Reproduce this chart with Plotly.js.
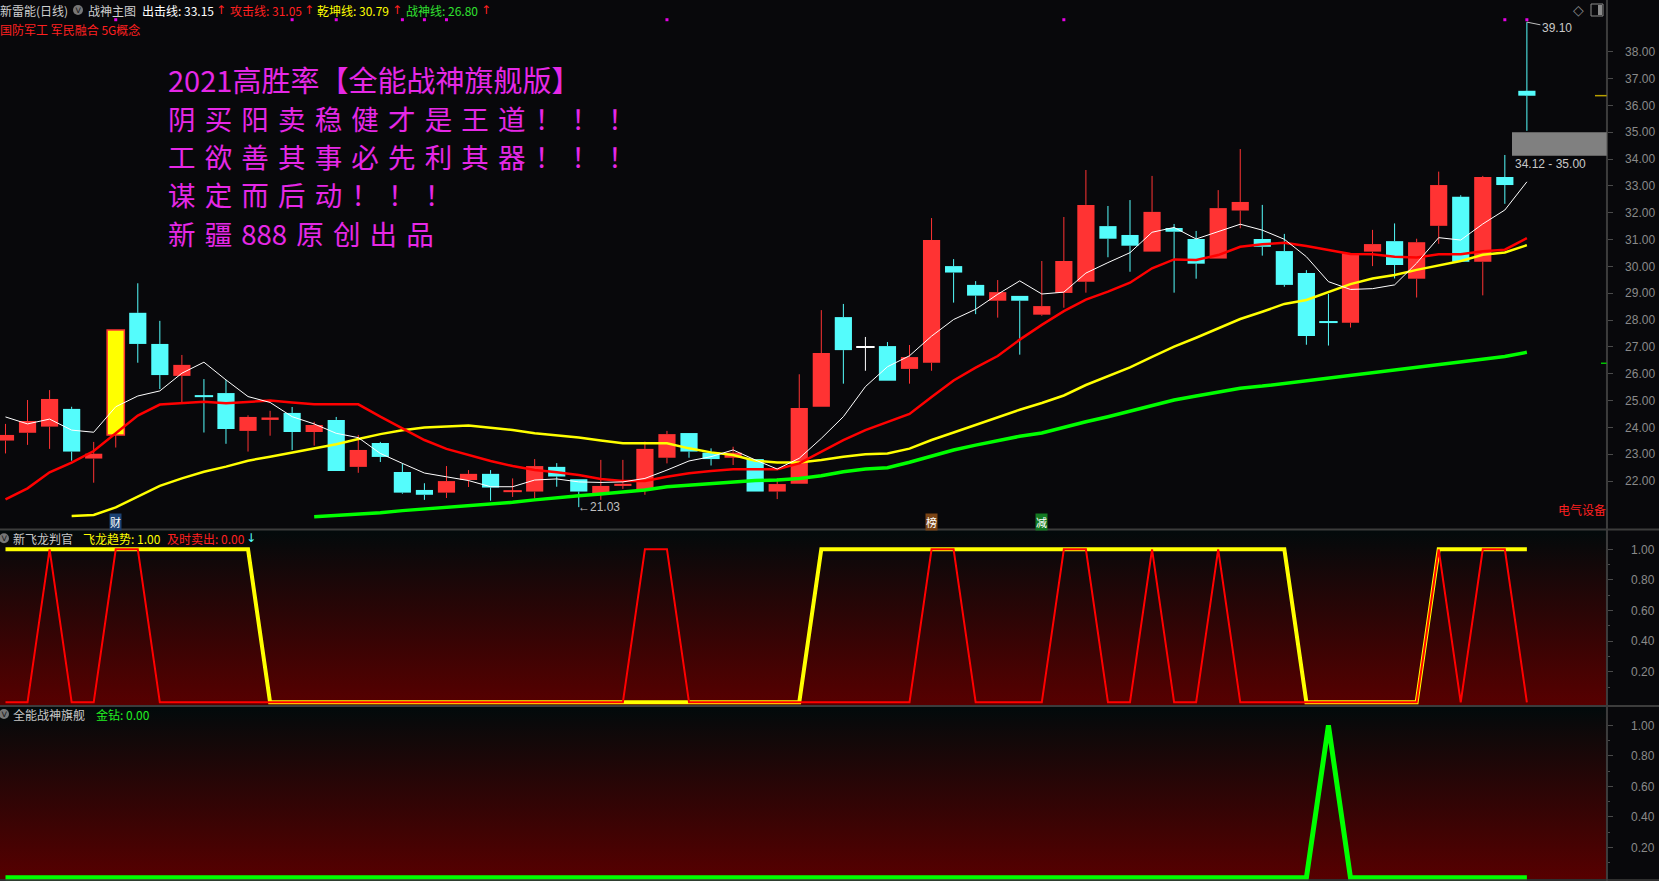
<!DOCTYPE html>
<html><head><meta charset="utf-8">
<script src="https://cdn.plot.ly/plotly-3.0.1.min.js"></script>
<style>
html,body{margin:0;padding:0;background:#08080b;overflow:hidden;}
#wrap{position:relative;width:1659px;height:881px;}
.grad{position:absolute;left:0;width:1607px;background:linear-gradient(to bottom,#020a0b 0%,#570000 100%);}
#chart{position:absolute;left:0;top:0;width:1659px;height:881px;}
</style></head><body>
<div id="wrap">
<div class="grad" style="top:530px;height:175px"></div>
<div class="grad" style="top:707px;height:172px"></div>
<div id="chart"></div>
</div>
<script>
// ---------- DATA ----------
const openP  = [23.51,23.80,24.03,24.69,22.84,23.72,28.27,27.11,25.92,25.15,25.28,23.87,24.28,24.54,23.83,24.28,22.53,23.42,22.34,21.67,21.57,22.04,22.27,21.61,21.61,22.53,22.07,21.53,21.82,21.67,22.87,23.79,23.06,22.87,22.82,21.61,21.90,24.77,28.11,26.98,27.03,26.18,26.41,30.01,29.31,28.72,28.90,28.20,29.01,29.43,31.50,31.17,30.55,31.43,31.02,30.29,32.08,31.02,30.57,29.75,27.91,27.90,30.55,30.94,29.54,31.51,32.59,30.17,33.33,36.54];
const highP  = [24.13,25.02,25.39,24.77,23.46,27.63,29.37,27.97,26.70,25.80,25.77,24.45,24.62,24.76,24.21,24.39,23.72,23.46,22.66,21.92,22.56,22.41,22.41,22.10,22.82,22.67,22.07,22.79,22.79,23.47,23.87,23.79,23.22,23.28,22.82,22.10,25.98,28.37,28.60,27.37,27.18,27.07,31.80,30.27,29.45,29.49,28.90,30.20,31.84,33.59,32.25,32.47,33.37,31.58,31.32,32.84,34.37,32.29,31.21,29.86,28.97,30.48,31.36,31.60,31.03,33.53,32.65,33.37,34.15,39.10];
const lowP   = [23.03,23.35,23.20,22.76,21.94,23.25,26.41,25.43,24.92,23.81,23.39,23.10,23.69,23.16,23.32,22.38,22.31,22.71,21.53,21.30,21.37,21.78,21.27,21.41,21.35,21.79,21.03,21.30,21.71,21.49,22.66,22.87,22.58,22.60,21.61,21.33,21.90,24.77,25.63,26.11,25.74,25.63,26.11,28.65,28.22,28.09,26.71,28.16,28.46,29.02,30.34,29.80,30.55,29.02,29.54,30.29,31.42,30.40,29.24,27.08,27.05,27.72,30.01,29.55,28.84,30.84,30.17,28.92,32.33,35.05];
const closeP = [23.72,24.24,25.06,23.10,23.02,27.63,27.11,25.95,26.33,25.15,23.94,24.39,24.37,23.83,24.09,22.38,23.16,22.90,21.57,21.49,22.00,22.27,21.76,21.61,22.56,22.17,21.61,21.82,21.90,23.20,23.75,23.10,22.82,23.06,21.61,21.89,24.72,26.77,26.88,26.98,25.74,26.62,30.98,29.77,28.91,29.04,28.72,28.52,30.20,32.29,31.03,30.77,32.03,31.29,30.10,32.17,32.40,30.73,29.31,27.41,27.91,30.48,30.83,30.05,30.90,33.03,30.17,33.33,33.03,36.36];
const limitUpDays = [5];
const dojiKind = {9:'down', 23:'up', 39:'flat', 60:'down'};

const chujiLine = [24.39,24.13,24.31,23.90,23.82,24.77,25.17,25.36,26.02,26.43,25.77,25.15,24.93,24.40,24.13,23.78,23.62,23.03,22.66,22.30,22.16,22.02,21.79,21.79,22.04,22.08,21.97,21.95,21.97,22.10,22.41,22.75,22.91,23.16,22.79,22.45,22.85,23.59,24.40,25.52,26.26,26.67,27.40,28.02,28.40,28.96,29.46,28.97,29.04,29.75,30.14,30.51,31.27,31.45,31.02,31.29,31.57,31.35,31.01,30.36,29.43,29.14,29.17,29.31,30.12,31.07,30.98,31.58,32.10,33.15];
const gongjiLine = [21.32,21.73,22.33,22.69,23.12,23.78,24.44,24.85,24.90,24.96,24.90,24.96,25.00,24.93,24.86,24.86,24.86,24.40,23.97,23.53,23.20,22.97,22.75,22.56,22.41,22.33,22.23,22.08,22.00,22.00,22.16,22.29,22.38,22.44,22.44,22.44,22.66,23.10,23.53,23.90,24.20,24.50,25.13,25.75,26.23,26.66,27.27,27.82,28.33,28.76,29.06,29.39,29.93,30.26,30.24,30.42,30.73,30.82,30.88,30.76,30.61,30.46,30.45,30.36,30.33,30.45,30.45,30.56,30.62,31.05];
const qiankunLine = [null,null,null,20.70,20.74,21.02,21.42,21.82,22.10,22.35,22.54,22.76,22.91,23.06,23.21,23.37,23.57,23.75,23.89,24.00,24.03,24.07,23.99,23.90,23.78,23.70,23.62,23.51,23.41,23.41,23.41,23.22,23.07,22.97,22.76,22.69,22.69,22.79,22.91,23.00,23.03,23.21,23.53,23.81,24.09,24.38,24.66,24.91,25.19,25.58,25.92,26.24,26.63,27.01,27.34,27.69,28.04,28.31,28.60,28.75,29.06,29.34,29.55,29.68,29.87,30.04,30.20,30.43,30.52,30.79];
const zhanshenLine = [null,null,null,null,null,null,null,null,null,null,null,null,null,null,20.67,20.71,20.76,20.82,20.90,20.96,21.02,21.08,21.17,21.21,21.30,21.36,21.45,21.52,21.58,21.67,21.79,21.85,21.92,21.98,22.02,22.04,22.10,22.20,22.35,22.45,22.50,22.70,22.92,23.16,23.34,23.52,23.67,23.79,24.01,24.21,24.40,24.61,24.83,25.02,25.17,25.33,25.46,25.54,25.64,25.74,25.83,25.93,26.01,26.14,26.23,26.32,26.41,26.52,26.64,26.80];

const signalDays = [5,13,15,18,19,20,30,48,68,69];

const feilongTrend = [1,1,1,1,1,1,1,1,1,1,1,1,0,0,0,0,0,0,0,0,0,0,0,0,0,0,0,0,0,0,0,0,0,0,0,0,0,1,1,1,1,1,1,1,1,1,1,1,1,1,1,1,1,1,1,1,1,1,1,0,0,0,0,0,0,1,1,1,1,1];
const sellNow     = [0,0,1,0,0,1,1,0,0,0,0,0,0,0,0,0,0,0,0,0,0,0,0,0,0,0,0,0,0,1,1,0,0,0,0,0,0,0,0,0,0,0,1,1,0,0,0,0,1,1,0,0,1,0,0,1,0,0,0,0,0,0,0,0,0,1,0,1,1,0];
const jinzuan     = [0,0,0,0,0,0,0,0,0,0,0,0,0,0,0,0,0,0,0,0,0,0,0,0,0,0,0,0,0,0,0,0,0,0,0,0,0,0,0,0,0,0,0,0,0,0,0,0,0,0,0,0,0,0,0,0,0,0,0,0,1,0,0,0,0,0,0,0,0,0];

const priceTicks = [22,23,24,25,26,27,28,29,30,31,32,33,34,35,36,37,38];
const priceGrid  = [22,24,26,28,30,32,34,36,38];
const subTicks   = [0.2,0.4,0.6,0.8,1.0];
const subMinor   = [0.1,0.3,0.5,0.7,0.9];
const zoneLow = 34.12, zoneHigh = 35.00;
const lowMark = {day:26, value:21.03};
const highMark = {day:69, value:39.10};
const tags = [{day:5,text:'财',bg:'#1b4173'},{day:42,text:'榜',bg:'#7a4314'},{day:47,text:'减',bg:'#137a22'}];

// ---------- BUILD ----------
const W = 1659, H = 881;
const PX = x => x / W, PY = y => 1 - y / H;
const CJK = '"Noto Sans CJK SC", "Noto Sans", sans-serif';
const LAT = '"Liberation Sans", Arial, sans-serif';
const RED = '#ff3333', CYAN = '#54fcfc', WHITE = '#ffffff', YEL = '#ffff00';

const days = openP.map((_, i) => i);
const bodyBase = [], bodyH = [], bodyColor = [], lineColor = [], lineW = [];
const wick = {};
function addWick(c, i, a, b) {
  if (b <= a) return;
  if (!wick[c]) wick[c] = {x: [], y: []};
  wick[c].x.push(i, i, null); wick[c].y.push(a, b, null);
}
days.forEach(i => {
  const o = openP[i], c = closeP[i];
  const lo = Math.min(o, c), hi = Math.max(o, c);
  let col, lc, lw = 0, wc;
  if (limitUpDays.includes(i)) { col = YEL; lc = RED; lw = 1.5; wc = RED; }
  else if (c > o) { col = RED; lc = RED; wc = RED; }
  else if (c < o) { col = CYAN; lc = CYAN; wc = CYAN; }
  else {
    const k = dojiKind[i] || 'flat';
    col = k === 'up' ? RED : k === 'down' ? CYAN : WHITE; lc = col; lw = 1.2; wc = col;
  }
  bodyBase.push(lo); bodyH.push(Math.max(hi - lo, 0.03));
  bodyColor.push(col); lineColor.push(lc); lineW.push(lw);
  addWick(wc, i, lowP[i], lo);
  addWick(wc, i, hi, highP[i]);
});

const traces = [];
traces.push({type: 'bar', x: days, base: bodyBase, y: bodyH, width: 0.78,
  marker: {color: bodyColor, line: {color: lineColor, width: lineW}},
  xaxis: 'x', yaxis: 'y', hoverinfo: 'skip', showlegend: false});
Object.keys(wick).forEach(c => traces.push({type: 'scatter', mode: 'lines', x: wick[c].x, y: wick[c].y,
  line: {color: c, width: 1}, xaxis: 'x', yaxis: 'y', hoverinfo: 'skip', showlegend: false, connectgaps: false}));
const maLine = (y, color, w) => ({type: 'scatter', mode: 'lines', x: days, y: y, line: {color: color, width: w},
  xaxis: 'x', yaxis: 'y', hoverinfo: 'skip', showlegend: false});
traces.push(maLine(zhanshenLine, '#00ff00', 3.5));
traces.push(maLine(qiankunLine, '#ffff00', 2.5));
traces.push(maLine(gongjiLine, '#ff0000', 2.5));
traces.push(maLine(chujiLine, '#ffffff', 1));
traces.push({type: 'scatter', mode: 'markers', x: signalDays, y: signalDays.map(() => 1),
  marker: {symbol: 'square', size: 3, color: '#e600e6'}, xaxis: 'x', yaxis: 'y5', hoverinfo: 'skip', showlegend: false});
traces.push({type: 'scatter', mode: 'lines', x: days, y: feilongTrend, line: {color: '#ffff00', width: 4},
  xaxis: 'x', yaxis: 'y2', hoverinfo: 'skip', showlegend: false});
traces.push({type: 'scatter', mode: 'lines', x: days, y: sellNow, line: {color: '#ff0000', width: 2},
  xaxis: 'x', yaxis: 'y2', hoverinfo: 'skip', showlegend: false});
traces.push({type: 'scatter', mode: 'lines', x: days, y: jinzuan, line: {color: '#00ff00', width: 5},
  xaxis: 'x', yaxis: 'y3', hoverinfo: 'skip', showlegend: false});

const axisFont = {family: LAT, size: 12, color: '#8a8a8a'};
const xR = 1606.7 / W;
const layout = {
  width: W, height: H, margin: {l: 0, r: 0, t: 0, b: 0},
  paper_bgcolor: 'rgba(0,0,0,0)', plot_bgcolor: 'rgba(0,0,0,0)',
  showlegend: false, bargap: 0,
  xaxis: {domain: [0, xR], range: [-0.249, 72.62], showgrid: false, zeroline: false, showticklabels: false, ticks: '', showline: false, fixedrange: true},
  yaxis: {domain: [PY(529.3), 1], anchor: 'x', side: 'right', range: [20.204, 39.924],
    tickmode: 'array', tickvals: priceTicks, tickformat: '.2f', ticks: 'outside', ticklen: 5, tickcolor: '#4a4a4a',
    tickfont: axisFont, ticklabelstandoff: 10, showgrid: false, zeroline: false, showline: true, linecolor: '#3a3a3a', linewidth: 1},
  yaxis4: {overlaying: 'y', anchor: 'x', side: 'right', range: [20.204, 39.924], tickmode: 'array', tickvals: priceGrid,
    showticklabels: false, ticks: '', showgrid: true, gridcolor: '#4a4a4a', griddash: '1px,5px', gridwidth: 1, zeroline: false, showline: false},
  yaxis5: {overlaying: 'y', anchor: 'x', range: [0, 1.0387], visible: false},
  yaxis2: {domain: [PY(705), PY(529.3)], anchor: 'x', side: 'right', range: [-0.0176, 1.1307],
    tickmode: 'array', tickvals: subTicks, tickformat: '.2f', ticks: 'outside', ticklen: 5, tickcolor: '#4a4a4a',
    minor: {tickmode: 'array', tickvals: subMinor, ticks: 'outside', ticklen: 2, tickcolor: '#4a4a4a'},
    tickfont: axisFont, ticklabelstandoff: 16, showgrid: false, zeroline: false, showline: true, linecolor: '#3a3a3a'},
  yaxis3: {domain: [0, PY(706.7)], anchor: 'x', side: 'right', range: [-0.021, 1.122],
    tickmode: 'array', tickvals: subTicks, tickformat: '.2f', ticks: 'outside', ticklen: 5, tickcolor: '#4a4a4a',
    minor: {tickmode: 'array', tickvals: subMinor, ticks: 'outside', ticklen: 2, tickcolor: '#4a4a4a'},
    tickfont: axisFont, ticklabelstandoff: 16, showgrid: false, zeroline: false, showline: true, linecolor: '#3a3a3a'},
  shapes: [], annotations: []
};
const S = layout.shapes, A = layout.annotations;
S.push({type: 'line', xref: 'paper', yref: 'paper', x0: 0, x1: 1, y0: PY(529.5), y1: PY(529.5), line: {color: '#3c3c3c', width: 2}});
S.push({type: 'line', xref: 'paper', yref: 'paper', x0: 0, x1: 1, y0: PY(706), y1: PY(706), line: {color: '#3c3c3c', width: 2}});
S.push({type: 'line', xref: 'paper', yref: 'paper', x0: 0, x1: 1, y0: PY(880), y1: PY(880), line: {color: '#3c3c3c', width: 1.5}});
S.push({type: 'line', xref: 'paper', yref: 'paper', x0: xR, x1: xR, y0: 0, y1: 1, line: {color: '#3c3c3c', width: 1.5}});
S.push({type: 'rect', xref: 'paper', yref: 'y', x0: PX(1512), x1: xR, y0: zoneLow, y1: zoneHigh, fillcolor: '#808080', line: {width: 0}});
S.push({type: 'line', xref: 'paper', yref: 'y', x0: PX(1595), x1: xR, y0: closeP[69], y1: closeP[69], line: {color: '#b8a000', width: 1.5}});
S.push({type: 'line', xref: 'paper', yref: 'y', x0: PX(1601), x1: xR, y0: 26.39, y1: 26.39, line: {color: '#00c000', width: 1.5}});
[[78, 10], [4, 538.3], [4, 714]].forEach(([cx, cy]) => {
  S.push({type: 'circle', xref: 'paper', yref: 'paper', x0: PX(cx - 5), x1: PX(cx + 5), y0: PY(cy + 5), y1: PY(cy - 5), fillcolor: '#777777', line: {width: 0}});
});
S.push({type: 'rect', xref: 'paper', yref: 'paper', x0: PX(1591), x1: PX(1603), y0: PY(16), y1: PY(4), line: {color: '#8a8a8a', width: 1}});
S.push({type: 'rect', xref: 'paper', yref: 'paper', x0: PX(1598), x1: PX(1602), y0: PY(15), y1: PY(5), fillcolor: '#8a8a8a', line: {width: 0}});

function T(x, y, text, color, size, xanchor, family) {
  A.push({xref: 'paper', yref: 'paper', x: PX(x), y: PY(y), text: text, showarrow: false,
    xanchor: xanchor || 'left', yanchor: 'middle', borderpad: 0, borderwidth: 0,
    font: {family: family || CJK, size: size || 12, color: color}});
}
T(78, 10, '˅', '#1a1a1a', 11, 'center', LAT);
T(4, 538.3, '˅', '#1a1a1a', 11, 'center', LAT);
T(4, 714, '˅', '#1a1a1a', 11, 'center', LAT);
T(0, 10, '新雷能(日线)', '#cfcfcf', 12);
T(88, 10, '战神主图', '#cfcfcf', 12);
T(142, 10, '出击线: ' + chujiLine[69].toFixed(2), '#ffffff', 12);
T(216, 10, '↑', '#ff2020', 12, 'left', '"DejaVu Sans"');
T(230, 10, '攻击线: ' + gongjiLine[69].toFixed(2), '#ff2020', 12);
T(304, 10, '↑', '#ff2020', 12, 'left', '"DejaVu Sans"');
T(317, 10, '乾坤线: ' + qiankunLine[69].toFixed(2), '#ffff00', 12);
T(392, 10, '↑', '#ff2020', 12, 'left', '"DejaVu Sans"');
T(406, 10, '战神线: ' + zhanshenLine[69].toFixed(2), '#30e030', 12);
T(481, 10, '↑', '#ff2020', 12, 'left', '"DejaVu Sans"');
T(0, 29.3, '国防军工 军民融合 5G概念', '#ff2020', 12);
T(1578, 10, '◇', '#8a8a8a', 14, 'center', '"DejaVu Sans"');
T(13, 538.3, '新飞龙判官', '#c8c8c8', 12);
T(83, 538.3, '飞龙趋势: ' + feilongTrend[69].toFixed(2), '#ffff00', 12);
T(167, 538.3, '及时卖出: ' + sellNow[69].toFixed(2), '#ff2020', 12);
T(246, 538.3, '↓', '#54fcfc', 12, 'left', '"DejaVu Sans"');
T(13, 714, '全能战神旗舰', '#c8c8c8', 12);
T(96, 714, '金钻: ' + jinzuan[69].toFixed(2), '#22ee22', 12);
T(1606, 509.6, '电气设备', '#ff2020', 12, 'right');
const sp = '\u2004';
const promo = [
  ['2021高胜率【全能战神旗舰版】'],
  '阴买阳卖稳健才是王道！！！'.split(''),
  '工欲善其事必先利其器！！！'.split(''),
  '谋定而后动！！！'.split(''),
  ['新', '疆', '888', '原', '创', '出', '品']
];
promo.forEach((parts, k) => T(168, 79.5 + k * 38.3, parts.join(sp), '#e628e6', k === 0 ? 29 : 27.5));
T(1515, 164.3, zoneLow.toFixed(2) + ' - ' + zoneHigh.toFixed(2), '#c8c8c8', 12, 'left', LAT);
A.push({xref: 'x', yref: 'y', x: lowMark.day, y: lowMark.value, text: '←' + lowMark.value.toFixed(2), showarrow: false,
  xanchor: 'left', yanchor: 'middle', xshift: -3, font: {family: LAT, size: 12, color: '#c0c0c0'}});
A.push({xref: 'x', yref: 'y', x: highMark.day, y: highMark.value, text: highMark.value.toFixed(2), showarrow: true,
  arrowhead: 0, arrowwidth: 1, arrowcolor: '#c0c0c0', ax: 30, ay: 6, font: {family: LAT, size: 12, color: '#c8c8c8'}});
tags.forEach(t => A.push({xref: 'x', yref: 'paper', x: t.day, y: PY(521.5), text: t.text, showarrow: false,
  xanchor: 'center', yanchor: 'middle', bgcolor: t.bg, borderpad: 0, font: {family: CJK, size: 11, color: '#ffffff'}}));

Plotly.newPlot('chart', traces, layout, {displayModeBar: false, staticPlot: true});
</script></body></html>
